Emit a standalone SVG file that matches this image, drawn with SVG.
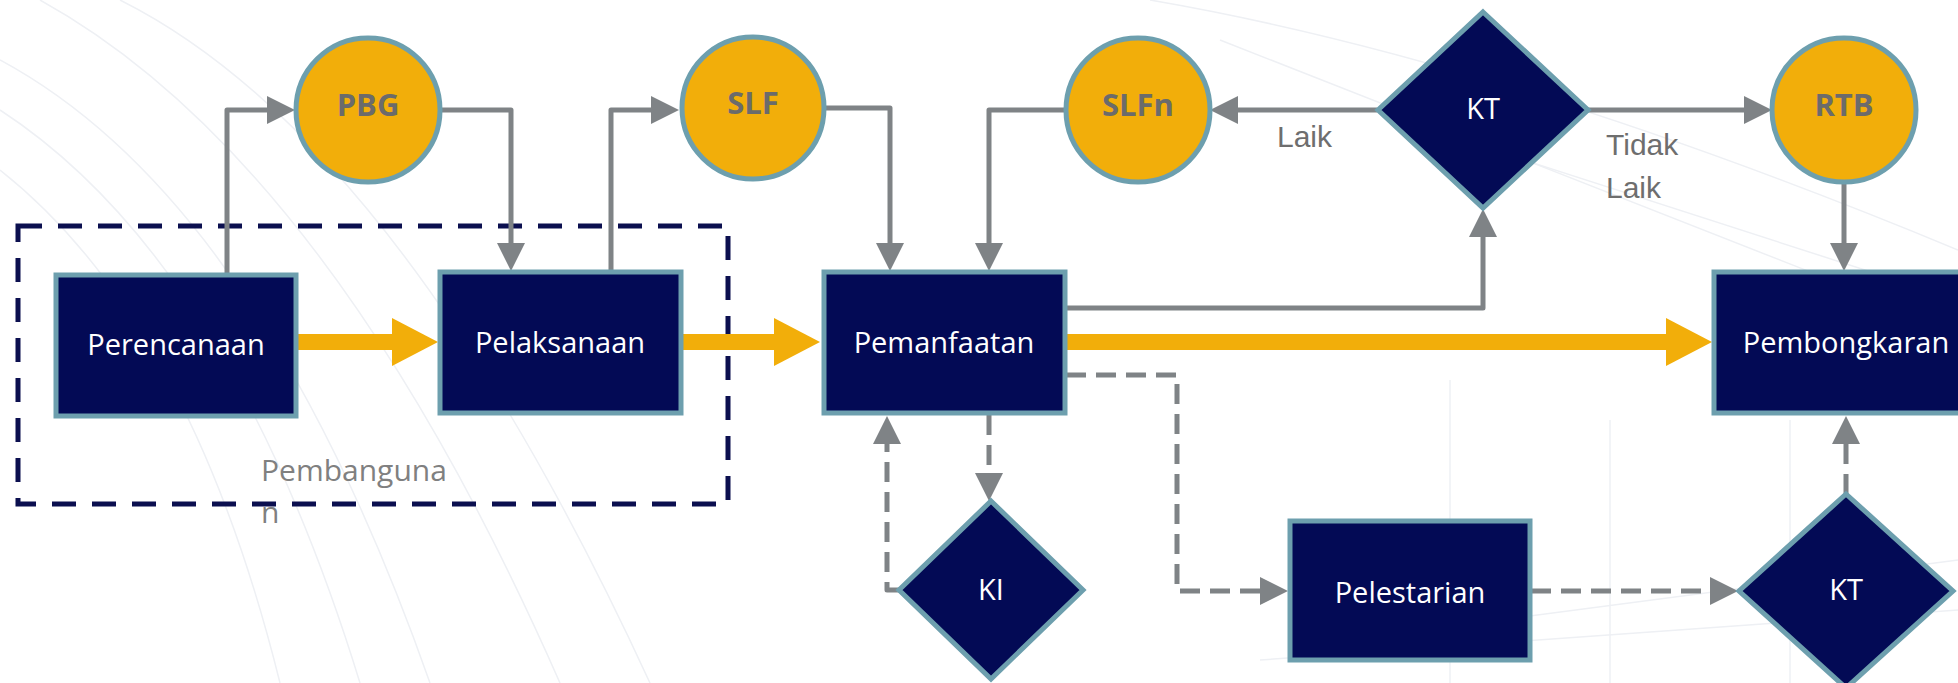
<svg xmlns="http://www.w3.org/2000/svg" width="1958" height="683" viewBox="0 0 1958 683">
  <style>
    .box { fill: #030a55; stroke: #6d9fae; stroke-width: 5; }
    .dia { fill: #030a55; stroke: #6d9fae; stroke-width: 5; }
    .doc { fill: #f2ae0a; stroke: #6d9fae; stroke-width: 5; }
    .lbl { font-family: "Open Sans", "Liberation Sans", sans-serif; font-size: 29px; fill: #ffffff; text-anchor: middle; }
    .doct { font-family: "Open Sans", "Liberation Sans", sans-serif; font-size: 31px; font-weight: bold; fill: #6b6b6b; text-anchor: middle; }
    .note { font-family: "Liberation Sans", Arial, sans-serif; font-size: 30px; fill: #6e6e6e; }
    .grp { font-family: "Open Sans", "Liberation Sans", sans-serif; font-size: 30px; fill: #808080; }
    .ln { fill: none; stroke: #7f8386; stroke-width: 5; stroke-linejoin: round; marker-end: url(#ah); }
    .dash { stroke-dasharray: 20 10; }
    .flow { fill: none; stroke: #f2ae0a; stroke-width: 16; marker-end: url(#ahO); }
    .sk { fill: none; stroke: #eef0f4; stroke-width: 1.5; }
  </style>
  <defs>
    <marker id="ah" markerUnits="userSpaceOnUse" markerWidth="28" markerHeight="28" refX="18" refY="14" orient="auto">
      <path d="M0,0 L28,14 L0,28 z" fill="#7f8386"/>
    </marker>
    <marker id="ahO" markerUnits="userSpaceOnUse" markerWidth="46" markerHeight="48" refX="26" refY="24" orient="auto">
      <path d="M0,0 L46,24 L0,48 z" fill="#f2ae0a"/>
    </marker>
  </defs>

  <rect width="1958" height="683" fill="#ffffff"/>

  <!-- faint architectural sketch in the background -->
  <g id="backdrop">
    <path class="sk" d="M0,60 Q260,200 430,683"/>
    <path class="sk" d="M0,110 Q230,260 360,683"/>
    <path class="sk" d="M0,170 Q190,320 280,683"/>
    <path class="sk" d="M40,0 Q330,160 560,683"/>
    <path class="sk" d="M120,0 Q400,140 650,683"/>
    <path class="sk" d="M1150,0 Q1500,60 1958,250"/>
    <path class="sk" d="M1220,40 L1958,330"/>
    <path class="sk" d="M1400,120 L1958,300"/>
    <path class="sk" d="M1450,380 L1450,683"/>
    <path class="sk" d="M1610,420 L1610,683"/>
    <path class="sk" d="M1790,420 L1790,683"/>
    <path class="sk" d="M1500,620 L1958,560"/>
    <path class="sk" d="M1260,660 L1958,610"/>
  </g>

  <!-- construction stage boundary -->
  <g id="pembangunan">
    <rect x="18" y="226" width="710" height="278" fill="none" stroke="#0b0f4f" stroke-width="5" stroke-dasharray="24 16"/>
    <text class="grp" x="261" y="481">Pembanguna</text>
    <text class="grp" x="261" y="523">n</text>
  </g>

  <g id="connectors">
    <!-- main lifecycle flow -->
    <path class="flow" d="M298,342 H418"/>
    <path class="flow" d="M683,342 H800"/>
    <path class="flow" d="M1066,342 H1692"/>
    <!-- permits and certificates -->
    <path class="ln" d="M227,274 V110 H285"/>
    <path class="ln" d="M441,110 H511 V261"/>
    <path class="ln" d="M611,271 V110 H669"/>
    <path class="ln" d="M824,108 H890 V261"/>
    <path class="ln" d="M1066,110 H989 V261"/>
    <path class="ln" d="M1377,110 H1220"/>
    <path class="ln" d="M1587,110 H1762"/>
    <path class="ln" d="M1844,182 V261"/>
    <path class="ln" d="M1066,308 H1483 V219"/>
    <!-- inspections and preservation -->
    <path class="ln dash" d="M1066,375 H1177 V591 H1278"/>
    <path class="ln dash" d="M989,415 V491"/>
    <path class="ln dash" d="M899,590 H887 V426"/>
    <path class="ln dash" d="M1531,591 H1728"/>
    <path class="ln dash" d="M1846,494 V426"/>
  </g>

  <g id="n-perencanaan">
    <rect class="box" x="56" y="275" width="240" height="141"/>
    <text class="lbl" x="176" y="355">Perencanaan</text>
  </g>
  <g id="n-pelaksanaan">
    <rect class="box" x="440" y="272" width="241" height="141"/>
    <text class="lbl" x="560" y="353">Pelaksanaan</text>
  </g>
  <g id="n-pemanfaatan">
    <rect class="box" x="824" y="272" width="241" height="141"/>
    <text class="lbl" x="944" y="353">Pemanfaatan</text>
  </g>
  <g id="n-pembongkaran">
    <rect class="box" x="1714" y="272" width="270" height="141"/>
    <text class="lbl" x="1846" y="353">Pembongkaran</text>
  </g>
  <g id="n-pelestarian">
    <rect class="box" x="1290" y="521" width="240" height="139"/>
    <text class="lbl" x="1410" y="603">Pelestarian</text>
  </g>

  <g id="n-pbg">
    <circle class="doc" cx="368" cy="110" r="72"/>
    <text class="doct" x="368" y="116">PBG</text>
  </g>
  <g id="n-slf">
    <circle class="doc" cx="753" cy="108" r="71"/>
    <text class="doct" x="753" y="114">SLF</text>
  </g>
  <g id="n-slfn">
    <circle class="doc" cx="1138" cy="110" r="72"/>
    <text class="doct" x="1138" y="116">SLFn</text>
  </g>
  <g id="n-rtb">
    <circle class="doc" cx="1844" cy="110" r="72"/>
    <text class="doct" x="1844" y="116">RTB</text>
  </g>

  <g id="n-kt-top">
    <polygon class="dia" points="1483,12 1588,110 1483,208 1378,110"/>
    <text class="lbl" x="1483" y="119">KT</text>
  </g>
  <g id="n-ki">
    <polygon class="dia" points="991,501 1083,590 991,679 899,590"/>
    <text class="lbl" x="991" y="600">KI</text>
  </g>
  <g id="n-kt-bottom">
    <polygon class="dia" points="1846,494 1953,591 1846,688 1739,591"/>
    <text class="lbl" x="1846" y="600">KT</text>
  </g>

  <g id="labels">
    <text class="note" x="1277" y="147">Laik</text>
    <text class="note" x="1606" y="155">Tidak</text>
    <text class="note" x="1606" y="198">Laik</text>
  </g>
</svg>
